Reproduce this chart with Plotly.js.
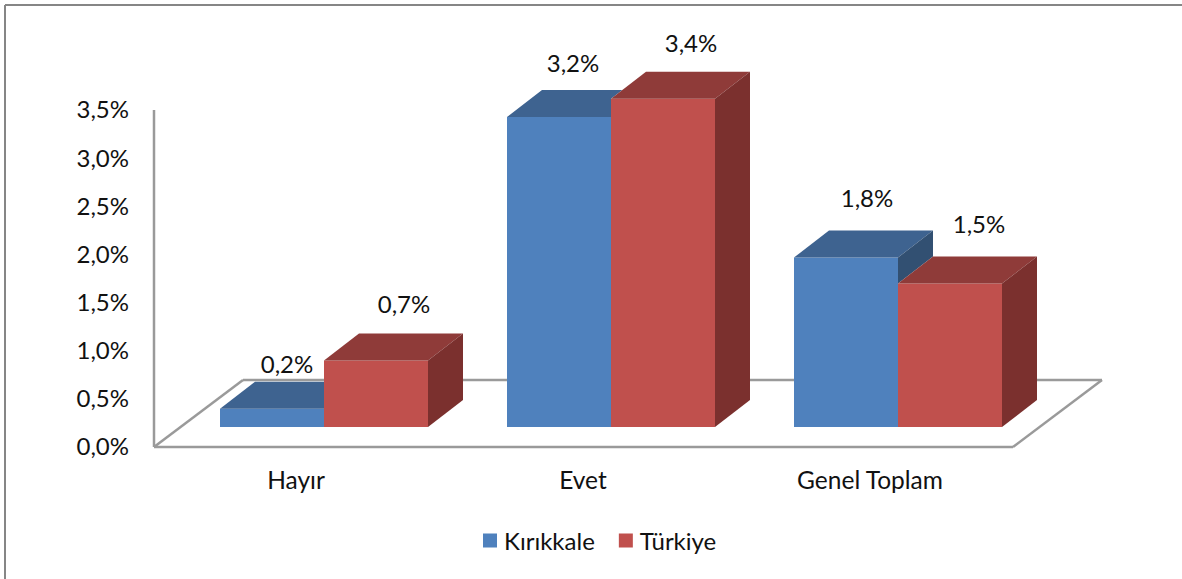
<!DOCTYPE html>
<html><head><meta charset="utf-8">
<script src="https://cdn.plot.ly/plotly-3.0.1.min.js"></script>
<style>html,body{margin:0;padding:0;background:#fff}#c{width:1182px;height:579px}</style>
</head><body><div id="c"></div>
<script>
const categories = ["Hayır", "Evet", "Genel Toplam"];
const kirikkale = [0.19, 3.22, 1.76];
const turkiye = [0.69, 3.41, 1.49];
const yTicks = [0, 0.5, 1, 1.5, 2, 2.5, 3, 3.5];
const seriesNames = ["Kırıkkale", "Türkiye"];
const fmt = (v, d) => v.toFixed(d).replace(".", ",") + "%";

const W = 1182, H = 579, L = 150, R = 1106, B = 451, Y0 = 447;
const pxX = 287, pxY = 96.286, x0px = 324;
const xD = p => (p - x0px) / pxX;
const yD = p => (Y0 - p) / pxY;
const barW = 104 / pxX, depthX = 35 / pxX, depthY = 27 / pxY, base = 20 / pxY;
const labelFont = {family: "Lato, sans-serif", size: 24, color: "#111"};
const catFont = {family: "Lato, sans-serif", size: 24.5, color: "#111"};

const idx = categories.map((_, i) => i);
const poly = (pts, color) => ({
  type: "scatter", mode: "lines", x: pts.map(p => p[0]), y: pts.map(p => p[1]),
  fill: "toself", fillcolor: color, line: {width: 0, color: color},
  hoverinfo: "skip", showlegend: false
});

const traces = [];
traces.push({type: "bar", name: seriesNames[0], x: idx.map(i => i - barW / 2), y: kirikkale,
  base: idx.map(() => base), width: barW, marker: {color: "#4F81BD", line: {width: 0}}, hoverinfo: "skip"});
traces.push({type: "bar", name: seriesNames[1], x: idx.map(i => i + barW / 2), y: turkiye,
  base: idx.map(() => base), width: barW, marker: {color: "#C0504D", line: {width: 0}}, hoverinfo: "skip"});

idx.forEach(i => {
  const bx0 = i - barW, bx1 = i, rx1 = i + barW;
  const v = base + kirikkale[i], r = base + turkiye[i];
  if (r <= v) {
    traces.push(poly([[bx0, v], [bx0 + depthX, v + depthY], [bx1 + depthX, v + depthY], [bx1, v], [bx0, v]], "#3E6390"));
    traces.push(poly([[bx1, v], [bx1 + depthX, v + depthY], [bx1 + depthX, r + depthY], [bx1, r], [bx1, v]], "#325072"));
  } else {
    const low = Math.min(r, v + depthY);
    const ext = (v + depthY - low) * depthX / depthY;
    traces.push(poly([[bx0, v], [bx0 + depthX, v + depthY], [bx1 + ext, v + depthY], [bx1, low], [bx1, v], [bx0, v]], "#3E6390"));
  }
  traces.push(poly([[bx1, r], [bx1 + depthX, r + depthY], [rx1 + depthX, r + depthY], [rx1, r], [bx1, r]], "#8F3B39"));
  traces.push(poly([[rx1, r], [rx1 + depthX, r + depthY], [rx1 + depthX, base + depthY], [rx1, base], [rx1, r]], "#7B302E"));
});

const labelOffX = [[15, 14, 21], [28, 28, 29]];
const labelOffY = [[-41.5, -50.5, -56.5], [-53.5, -52.5, -56.5]];
[kirikkale, turkiye].forEach((vals, s) => {
  traces.push({type: "scatter", mode: "text", showlegend: false, hoverinfo: "skip", cliponaxis: false,
    x: idx.map(i => i + (s ? 1 : -1) * barW / 2 + labelOffX[s][i] / pxX),
    y: idx.map(i => base + vals[i] - labelOffY[s][i] / pxY),
    text: vals.map(v => fmt(v, 1)), textposition: "middle center", textfont: labelFont});
});

const grey = "#9A9A9A";
const seg = (a, b, c, d) => ({type: "line", xref: "x", yref: "y", x0: a, y0: b, x1: c, y1: d, layer: "below", line: {color: grey, width: 2.5}});
const border = {color: "#868686", width: 2};
const px = p => (p - L) / (R - L), py = p => (B - p) / B;
const shapes = [
  seg(xD(154), yD(447), xD(1013), yD(447)),
  seg(xD(1013), yD(447), xD(1102), yD(380)),
  seg(xD(1102), yD(380), xD(243), yD(380)),
  seg(xD(243), yD(380), xD(154), yD(447)),
  seg(xD(154), yD(447), xD(154), yD(110)),
  {type: "line", xref: "paper", yref: "paper", x0: px(5), x1: px(W), y0: py(5), y1: py(5), line: border},
  {type: "line", xref: "paper", yref: "paper", x0: px(5), x1: px(5), y0: py(5), y1: py(H), line: border}
];

const layout = {
  width: W, height: H, paper_bgcolor: "#fff", plot_bgcolor: "rgba(0,0,0,0)",
  margin: {l: L, r: W - R, t: 0, b: H - B, pad: 0},
  barmode: "overlay", hovermode: false,
  font: labelFont,
  xaxis: {range: [xD(L), xD(R)], showgrid: false, zeroline: false, showline: false, ticks: "",
    tickmode: "array", tickvals: idx.map(i => i - 28 / pxX), ticktext: categories,
    tickfont: catFont, ticklabelstandoff: 12, automargin: false},
  yaxis: {range: [yD(B), yD(0)], showgrid: false, zeroline: false, showline: false, ticks: "",
    tickmode: "array", tickvals: yTicks, ticktext: yTicks.map(v => fmt(v, 1)),
    tickfont: labelFont, ticklabelstandoff: 20, automargin: false},
  legend: {orientation: "h", x: px(470), xanchor: "left", y: py(518.5), yanchor: "top",
    font: labelFont, bgcolor: "rgba(0,0,0,0)", itemclick: false, itemdoubleclick: false},
  shapes: shapes
};
Plotly.newPlot("c", traces, layout, {displayModeBar: false, staticPlot: true}).then(gd => {
  // legend key size and key-to-text gap as in the reference
  gd.querySelectorAll(".legend .traces").forEach(t => {
    const p = t.querySelector(".legendundefined, .legendbar path, .legendpoints path");
    if (p) p.setAttribute("d", "M7,7H-7V-7H7Z");
    const tx = t.querySelector(".legendtext");
    if (tx) tx.setAttribute("x", String(parseFloat(tx.getAttribute("x")) - 6));
  });
});
</script></body></html>
